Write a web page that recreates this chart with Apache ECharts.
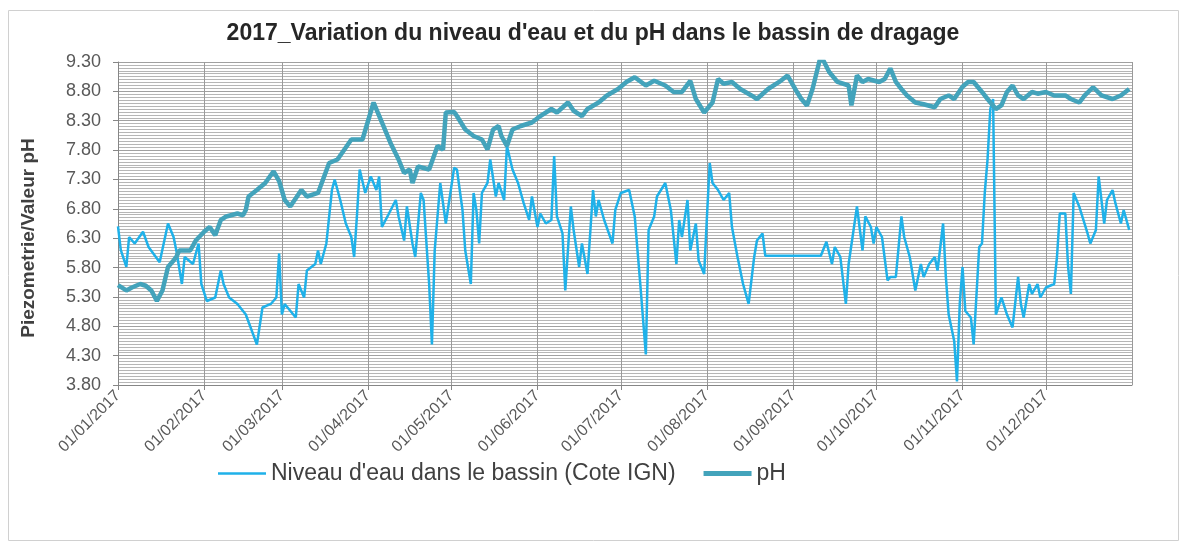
<!DOCTYPE html>
<html>
<head>
<meta charset="utf-8">
<script src="https://cdn.jsdelivr.net/npm/echarts@6/dist/echarts.min.js"></script>
<style>
  html, body { margin: 0; padding: 0; background: #fff; }
  #main { width: 1186px; height: 548px; }
</style>
</head>
<body>
<div id="main"></div>
<script>
// jours depuis le 01/01/2017 et valeurs
var niveauJours = [0, 1, 3, 4, 6, 9, 11, 15, 18, 20, 21, 23, 24, 27, 29, 30, 32, 35, 37, 38, 40, 43, 46, 50, 52, 55, 57, 58, 59,
    60, 64, 65, 67, 68, 71, 72, 73, 75, 77, 78, 80, 82, 84, 85, 86, 87, 89, 91, 93, 94, 95, 97, 100, 101, 103, 104, 106, 107, 109, 110, 112, 113, 114, 116, 118,
    121, 122, 124, 125, 127, 128, 129, 130, 131, 133, 134, 136, 137, 139, 140, 142, 144, 146, 148, 149, 151, 152, 154, 156, 157, 158, 160, 161, 163, 164, 166, 167, 169, 171, 172, 173, 175, 178, 179,
    181, 184, 186, 188, 190, 191, 193, 194, 197, 199, 201, 202, 203, 205, 206, 208, 209, 211, 212, 213, 214, 216, 218, 220, 221, 223, 225, 227, 229, 230, 232, 233,
    253, 255, 257, 258, 260, 262, 263, 266, 268, 269, 271, 272, 273, 275, 277, 278, 280, 282, 283, 285, 287, 289, 290, 292, 294, 295, 297, 298, 299, 301, 302, 303,
    304, 305, 307, 308, 310, 311, 312, 313, 314, 315, 316, 318, 320, 322, 324, 325, 326, 328, 329, 331, 332,
    334, 337, 338, 339, 341, 342, 343, 344, 346, 349, 350, 352, 353, 355, 356, 358, 359, 361, 362, 364];
var niveauValeurs = [6.50, 6.10, 5.81, 6.32, 6.21, 6.41, 6.15, 5.89, 6.55, 6.32, 6.09, 5.52, 5.98, 5.86, 6.21, 5.52, 5.23, 5.29, 5.75, 5.52, 5.29, 5.18, 5.00, 4.49, 5.12, 5.18, 5.29, 6.04, 5.00,
    5.18, 4.95, 5.52, 5.29, 5.75, 5.86, 6.09, 5.86, 6.21, 7.12, 7.30, 6.95, 6.55, 6.32, 5.98, 6.67, 7.47, 7.07, 7.35, 7.12, 7.35, 6.49, 6.67, 6.95, 6.67, 6.26, 6.84, 6.21, 5.98, 7.07, 6.95, 5.52, 4.49, 6.09, 7.24, 6.55,
    7.50, 7.47, 6.78, 6.09, 5.52, 7.07, 6.78, 6.21, 7.07, 7.24, 7.64, 7.01, 7.24, 6.95, 7.87, 7.47, 7.24, 6.90, 6.61, 7.01, 6.49, 6.72, 6.55, 6.61, 7.70, 6.67, 6.38, 5.41, 6.84, 6.44, 5.81, 6.21, 5.69, 7.12, 6.67, 6.95, 6.61, 6.21, 6.78,
    7.07, 7.12, 6.67, 5.52, 4.32, 6.44, 6.67, 7.01, 7.24, 6.78, 5.86, 6.61, 6.32, 6.95, 6.09, 6.55, 5.92, 5.69, 6.67, 7.58, 7.24, 7.12, 6.95, 7.07, 6.49, 5.98, 5.52, 5.18, 5.98, 6.26, 6.38, 6.00,
    6.00, 6.24, 5.86, 6.15, 5.98, 5.18, 5.86, 6.84, 6.09, 6.67, 6.49, 6.21, 6.49, 6.32, 5.58, 5.64, 5.64, 6.67, 6.32, 5.98, 5.41, 5.86, 5.64, 5.86, 5.98, 5.75, 6.55, 5.64, 5.00, 4.55, 3.86, 5.18,
    5.81, 5.06, 4.95, 4.49, 6.15, 6.21, 7.07, 7.64, 8.50, 8.67, 5.00, 5.29, 5.00, 4.78, 5.64, 5.18, 4.95, 5.52, 5.35, 5.52, 5.29,
    5.46, 5.52, 5.98, 6.72, 6.72, 5.81, 5.35, 7.07, 6.84, 6.38, 6.21, 6.44, 7.35, 6.55, 6.95, 7.12, 6.90, 6.55, 6.78, 6.44];

var phJours = [0, 3, 5, 8, 10, 12, 14, 16, 18, 20, 21, 22, 26, 28, 31, 33, 35, 37, 39, 43, 45, 46, 47, 50, 53, 56, 58,
    60, 62, 66, 68, 72, 76, 79, 84, 88, 92, 95, 98, 101, 103, 105, 106, 108, 112, 115, 117, 118,
    121, 122, 125, 128, 131, 133, 135, 137, 138, 140, 142, 145, 149, 152, 156, 158, 162, 164, 167, 169, 173, 176, 180,
    183, 186, 190, 193, 197, 200, 203, 206, 208, 211, 214, 216, 218, 221, 224, 228, 230, 234, 238, 241,
    244, 246, 248, 250, 253, 256, 259, 263, 264, 266, 268, 270, 274, 276, 278, 280, 282, 284, 287, 290, 294, 296, 299, 301,
    304, 306, 308, 311, 313, 316, 318, 320, 322, 324, 326, 329, 331, 334, 337, 341, 343, 346, 348, 351, 354, 358, 361, 364];
var phValeurs = [5.50, 5.41, 5.46, 5.52, 5.49, 5.41, 5.23, 5.41, 5.81, 5.92, 5.98, 6.09, 6.09, 6.26, 6.41, 6.49, 6.35, 6.61, 6.67, 6.72, 6.69, 6.78, 7.01, 7.12, 7.24, 7.44, 7.27,
    6.95, 6.84, 7.12, 7.01, 7.07, 7.58, 7.64, 7.98, 7.98, 8.61, 8.27, 7.93, 7.64, 7.41, 7.47, 7.24, 7.52, 7.47, 7.87, 7.81, 8.44,
    8.45, 8.38, 8.15, 8.04, 7.98, 7.81, 8.15, 8.21, 8.04, 7.87, 8.15, 8.21, 8.27, 8.38, 8.50, 8.44, 8.61, 8.47, 8.38, 8.50, 8.61, 8.73, 8.84,
    8.96, 9.04, 8.90, 8.98, 8.90, 8.79, 8.79, 8.98, 8.67, 8.44, 8.61, 9.01, 8.93, 8.96, 8.84, 8.73, 8.67, 8.84, 8.96, 9.07,
    8.82, 8.67, 8.56, 8.84, 9.41, 9.13, 8.96, 8.90, 8.56, 9.07, 8.96, 9.01, 8.96, 9.01, 9.19, 8.96, 8.84, 8.73, 8.61, 8.58, 8.53, 8.67, 8.73, 8.67,
    8.88, 8.96, 8.96, 8.79, 8.67, 8.50, 8.56, 8.79, 8.90, 8.73, 8.67, 8.79, 8.76, 8.79, 8.73, 8.73, 8.67, 8.61, 8.73, 8.87, 8.73, 8.67, 8.73, 8.84];

var yTicks = [3.80, 4.30, 4.80, 5.30, 5.80, 6.30, 6.80, 7.30, 7.80, 8.30, 8.80, 9.30];

function jourEnDate(j) {
    return new Date(2017, 0, 1 + j);
}
function pad(n) {
    return n < 10 ? '0' + n : '' + n;
}
function estGraduation(v) {
    for (var i = 0; i < yTicks.length; i++) {
        if (Math.abs(yTicks[i] - v) < 1e-6) return true;
    }
    return false;
}

var niveauData = niveauJours.map(function (j, i) { return [jourEnDate(j), niveauValeurs[i]]; });
var phData = phJours.map(function (j, i) { return [jourEnDate(j), phValeurs[i]]; });

// quadrillage fin : une ligne tous les 0.05, plus foncee tous les 0.5
var gridColors = ['#a0a0a0'];
for (var k = 0; k < 9; k++) gridColors.push('#b6b6b6');

var options = {
    animation: false,
    textStyle: { fontFamily: 'Liberation Sans' },
    title: {
        text: "2017_Variation du niveau d'eau et du pH dans le bassin de dragage",
        left: 'center',
        top: 17,
        textStyle: { fontSize: 23, fontWeight: 'bold', color: '#262626', fontFamily: 'Liberation Sans' }
    },
    graphic: [{
        type: 'rect',
        shape: { x: 8.5, y: 10.5, width: 1170, height: 530 },
        style: { fill: 'none', stroke: '#d0d0d0', lineWidth: 1 },
        silent: true
    }, {
        type: 'text',
        x: 29,
        y: 238,
        rotation: Math.PI / 2,
        style: {
            text: 'Piezometrie/Valeur pH',
            font: 'bold 19px "Liberation Sans"',
            fill: '#404040',
            textAlign: 'center',
            textVerticalAlign: 'middle'
        },
        silent: true
    }],
    legend: {
        bottom: 58,
        left: 213,
        itemWidth: 48,
        itemHeight: 14,
        itemGap: 28,
        symbolKeepAspect: true,
        textStyle: { fontSize: 23, color: '#404040' },
        data: [
            { name: "Niveau d'eau dans le bassin (Cote IGN)", icon: 'path://M0,0H48V2.5H0Z' },
            { name: 'pH', icon: 'path://M0,0H48V5H0Z' }
        ]
    },
    grid: {
        left: 118,
        right: 54,
        top: 62,
        bottom: 163
    },
    xAxis: {
        type: 'time',
        min: jourEnDate(0),
        max: jourEnDate(365),
        splitNumber: 12,
        minInterval: 28 * 86400000,
        maxInterval: 31 * 86400000,
        axisLine: { lineStyle: { color: '#868686', width: 1 } },
        axisTick: { show: true, length: 5, lineStyle: { color: '#868686' } },
        splitLine: { show: true, lineStyle: { color: '#9a9a9a', width: 1 } },
        axisLabel: {
            rotate: 45,
            fontSize: 16,
            color: '#595959',
            margin: 8,
            hideOverlap: false,
            formatter: function (val) {
                var d = new Date(val);
                if (d.getFullYear() > 2017) return '';
                return pad(d.getDate()) + '/' + pad(d.getMonth() + 1) + '/' + d.getFullYear();
            }
        }
    },
    yAxis: [{
        // axe des donnees : sert au quadrillage fin
        type: 'value',
        min: 3.8,
        max: 9.3,
        interval: 0.05,
        axisLine: { show: false },
        axisTick: { show: false },
        axisLabel: { show: false },
        splitLine: { show: true, lineStyle: { color: gridColors, width: 1 } }
    }, {
        // meme echelle : graduations et libelles
        type: 'value',
        position: 'left',
        min: 3.8,
        max: 9.3,
        interval: 0.05,
        axisLine: { show: true, lineStyle: { color: '#868686', width: 1 } },
        axisTick: { show: true, length: 5, customValues: yTicks, lineStyle: { color: '#868686' } },
        splitLine: { show: false },
        axisLabel: {
            fontSize: 18,
            color: '#595959',
            margin: 17,
            formatter: function (v) {
                return estGraduation(v) ? v.toFixed(2) : '';
            }
        }
    }],
    series: [{
        name: "Niveau d'eau dans le bassin (Cote IGN)",
        type: 'line',
        symbol: 'none',
        yAxisIndex: 0,
        data: niveauData,
        itemStyle: { color: '#1fb1e9' },
        lineStyle: { color: '#1fb1e9', width: 2.5 }
    },
    {
        name: 'pH',
        type: 'line',
        symbol: 'none',
        yAxisIndex: 0,
        data: phData,
        itemStyle: { color: '#43a3bb' },
        lineStyle: { color: '#43a3bb', width: 4.5 }
    }]
};

var chart = echarts.init(document.getElementById('main'));
chart.setOption(options);
</script>
</body>
</html>
